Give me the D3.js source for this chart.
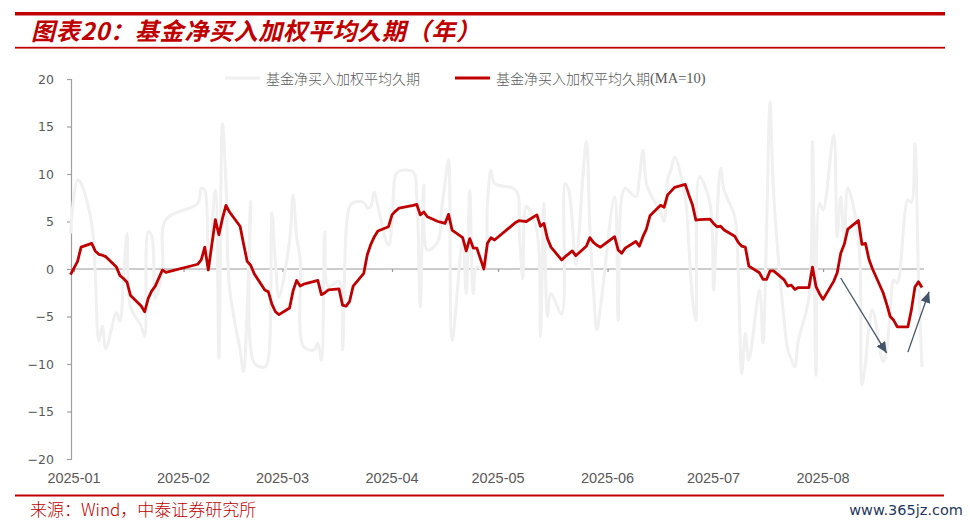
<!DOCTYPE html>
<html><head><meta charset="utf-8">
<script src="https://cdn.jsdelivr.net/npm/d3@7"></script>
<style>body{margin:0;background:#fff} svg{display:block}</style>
</head><body><svg id="c" width="970" height="525"></svg>
<script>
const titleText = "图表20：基金净买入加权平均久期（年）";
const sourceText = "来源：Wind，中泰证券研究所";
const watermarkText = "www.365jz.com";
const seriesNames = ["基金净买入加权平均久期", "基金净买入加权平均久期", "(MA=10)"];

const dates = [
"2024-12-31","2025-01-02","2025-01-03","2025-01-06","2025-01-07","2025-01-08","2025-01-09","2025-01-10",
"2025-01-13","2025-01-14","2025-01-15","2025-01-16","2025-01-17","2025-01-20","2025-01-21","2025-01-22",
"2025-01-23","2025-01-24","2025-01-26","2025-01-27",
"2025-02-05","2025-02-06","2025-02-07","2025-02-08","2025-02-10","2025-02-11","2025-02-12","2025-02-13",
"2025-02-14","2025-02-17","2025-02-18","2025-02-19","2025-02-20","2025-02-21","2025-02-24","2025-02-25",
"2025-02-26","2025-02-27","2025-02-28",
"2025-03-03","2025-03-04","2025-03-05","2025-03-06","2025-03-07","2025-03-10","2025-03-11","2025-03-12",
"2025-03-13","2025-03-14","2025-03-17","2025-03-18","2025-03-19","2025-03-20","2025-03-21","2025-03-24",
"2025-03-25","2025-03-26","2025-03-27","2025-03-28","2025-03-31",
"2025-04-01","2025-04-02","2025-04-03","2025-04-07","2025-04-08","2025-04-09","2025-04-10","2025-04-11",
"2025-04-14","2025-04-15","2025-04-16","2025-04-17","2025-04-18","2025-04-21","2025-04-22","2025-04-23",
"2025-04-24","2025-04-25","2025-04-27","2025-04-28","2025-04-29","2025-04-30",
"2025-05-06","2025-05-07","2025-05-08","2025-05-09","2025-05-12","2025-05-13","2025-05-14","2025-05-15",
"2025-05-16","2025-05-19","2025-05-20","2025-05-21","2025-05-22","2025-05-23","2025-05-26","2025-05-27",
"2025-05-28","2025-05-29","2025-05-30",
"2025-06-03","2025-06-04","2025-06-05","2025-06-06","2025-06-09","2025-06-10","2025-06-11","2025-06-12",
"2025-06-13","2025-06-16","2025-06-17","2025-06-18","2025-06-19","2025-06-20","2025-06-23","2025-06-24",
"2025-06-25","2025-06-26","2025-06-27","2025-06-30",
"2025-07-01","2025-07-02","2025-07-03","2025-07-04","2025-07-07","2025-07-08","2025-07-09","2025-07-10",
"2025-07-11","2025-07-14","2025-07-15","2025-07-16","2025-07-17","2025-07-18","2025-07-21","2025-07-22",
"2025-07-23","2025-07-24","2025-07-25","2025-07-28","2025-07-29","2025-07-30","2025-07-31",
"2025-08-01","2025-08-04","2025-08-05","2025-08-06","2025-08-07","2025-08-08","2025-08-11","2025-08-12",
"2025-08-13","2025-08-14","2025-08-15","2025-08-18","2025-08-19","2025-08-20","2025-08-21","2025-08-22",
"2025-08-25","2025-08-26","2025-08-27","2025-08-28","2025-08-29"
];

const rawValues = [
3.75,9.4,9.0,4.8,-0.5,-7.6,-6.0,-8.4,
-4.6,-5.5,-1.0,3.75,-4.0,-6.0,-7.1,3.9,
3.5,-3.1,-0.1,5.2,
6.9,8.5,8.3,-0.1,8.3,-9.4,15.3,9.0,
-2.0,-8.5,-10.8,-4.3,7.1,-9.9,-10.3,-9.5,
5.9,0.6,-3.0,
3.0,7.8,3.4,1.0,-8.2,-8.5,-7.8,-9.6,
3.9,-1.85,-1.3,-8.5,4.1,6.6,7.0,7.0,
6.4,6.6,8.1,6.6,2.5,
4.6,9.9,10.3,10.2,7.6,-4.0,8.85,2.0,
2.9,6.2,9.0,11.5,-7.5,3.05,-2.6,8.3,
-2.6,0.25,-0.1,6.9,10.4,9.0,
8.3,4.0,-1.0,6.6,4.0,-7.1,6.9,-5.0,
-2.6,-4.7,9.0,8.3,5.0,0.5,13.4,4.1,
-2.2,-6.4,-4.0,
7.6,-5.4,7.6,8.5,7.6,9.5,12.5,9.0,
8.0,6.0,5.0,9.4,10.5,11.8,7.5,2.5,
-3.0,-5.4,9.7,6.9,
-2.2,5.5,10.6,8.3,5.5,-0.45,-11.0,-6.8,
-9.6,-2.2,-7.8,4.0,17.6,8.0,-5.5,-8.5,
-9.5,-10.3,-7.5,-3.0,13.4,-11.2,6.9,
6.2,14.1,3.4,7.6,3.05,8.5,3.4,-12.2,
-9.9,-6.0,-4.3,-9.75,-8.5,-4.5,-1.15,-1.5,
7.3,7.0,13.2,-0.8,-10.3
];

const maValues = [
-0.6,0.8,2.3,2.7,1.9,1.55,1.45,1.3,
0.2,-0.7,-1.0,-1.4,-2.8,-3.9,-4.5,-3.1,
-2.3,-1.8,-0.1,-0.35,
0.5,0.95,2.3,-0.1,5.2,3.6,5.3,6.7,
6.0,4.5,2.6,0.8,0.4,-0.5,-2.2,-2.4,
-3.7,-4.5,-4.8,
-4.1,-2.3,-1.2,-1.8,-1.6,-1.3,-1.2,-2.7,
-2.5,-2.2,-2.1,-3.8,-3.9,-3.4,-1.8,-0.45,
1.5,2.6,3.4,4.0,4.45,
5.7,6.1,6.4,6.7,6.8,5.7,6.0,5.5,
5.0,4.9,4.8,5.75,4.1,3.3,1.9,3.2,
2.2,2.2,0.0,2.7,3.3,3.05,
4.9,5.1,5.05,5.0,5.7,4.5,4.8,3.2,
2.3,0.95,1.3,1.6,1.9,1.4,2.4,3.3,
2.8,2.5,2.3,
3.4,2.0,1.65,2.2,2.9,2.4,3.4,4.2,
5.6,6.7,6.5,7.8,8.2,8.6,8.9,7.8,
6.8,5.15,5.2,5.25,
4.8,4.45,4.5,4.1,3.45,2.8,2.4,2.3,
0.3,-0.4,-1.1,-1.1,-0.2,-0.2,-1.15,-1.8,
-1.7,-2.15,-1.95,-1.95,0.2,-1.85,-2.6,
-3.2,-1.3,-0.4,1.65,2.6,4.2,5.1,2.6,
2.7,1.0,0.0,-2.5,-3.7,-5.0,-5.4,-6.1,
-6.1,-4.3,-1.9,-1.35,-1.95
];

const yTicks = [-20,-15,-10,-5,0,5,10,15,20];
const xTickDates = ["2025-01-01","2025-02-01","2025-03-01","2025-04-01","2025-05-01","2025-06-01","2025-07-01","2025-08-01"];
const xTickLabels = ["2025-01","2025-02","2025-03","2025-04","2025-05","2025-06","2025-07","2025-08"];
const xDomain = ["2024-12-31","2025-08-29"];
const arrowNotes = [
  {x1:"2025-08-06", y1:-0.95, x2:"2025-08-19", y2:-8.85},
  {x1:"2025-08-25", y1:-8.75, x2:"2025-08-31", y2:-2.4}
];

const parse = d3.timeParse("%Y-%m-%d");
const svg = d3.select("#c");
const RED = "#c00000";

const x = d3.scaleTime().domain(xDomain.map(parse)).range([70.5, 922]);
const y = d3.scaleLinear().domain([-20, 20]).range([459, 79]);

// header rules & title
svg.append("rect").attr("x",15).attr("y",12).attr("width",930).attr("height",3.5).attr("fill",RED);
svg.append("rect").attr("x",15).attr("y",46.8).attr("width",930).attr("height",1.8).attr("fill",RED);
svg.append("text").attr("x",31).attr("y",40)
  .attr("font-family","'Noto Sans CJK SC'").attr("font-size",24).attr("font-weight",700)
  .attr("font-style","italic").attr("letter-spacing",0.7).attr("fill",RED).text(titleText);

// footer
svg.append("rect").attr("x",15).attr("y",494.5).attr("width",929).attr("height",2).attr("fill",RED);
svg.append("text").attr("x",30).attr("y",508).attr("dominant-baseline","central")
  .attr("font-family","'Noto Sans CJK SC'").attr("font-size",17).attr("font-weight",300)
  .attr("fill",RED).text(sourceText);
svg.append("text").attr("x",963).attr("y",510).attr("dominant-baseline","central").attr("text-anchor","end")
  .attr("font-family","'DejaVu Sans'").attr("font-size",14.5)
  .attr("fill","#1f3864").text(watermarkText);

// y axis
const yAxis = d3.axisLeft(y).tickValues(yTicks).tickSize(4).tickPadding(13).tickFormat(d3.format("d"));
const gy = svg.append("g").attr("transform","translate(71,0)").call(yAxis);
gy.select(".domain").attr("stroke","#a0a0a0").attr("stroke-width",1.2);
gy.selectAll(".tick line").attr("stroke","#a0a0a0").attr("stroke-width",1.2);
gy.selectAll(".tick text").attr("font-family","'DejaVu Sans'").attr("font-size",12.5).attr("fill","#595959");

// x axis along zero line
const xTicks = xTickDates.map(parse);
const xAxis = d3.axisBottom(x).tickValues(xTicks).tickSize(3).tickFormat(() => "");
const gx = svg.append("g").attr("transform",`translate(0,${y(0)})`).call(xAxis);
gx.select(".domain").attr("stroke","#999").attr("stroke-width",1.2).attr("d",`M71,0H924`);
gx.selectAll(".tick line").attr("stroke","#999").attr("stroke-width",1.2);

svg.append("g").selectAll("text").data(xTicks).join("text")
  .attr("x", (d,i) => x(d)).attr("y",478).attr("text-anchor","middle").attr("dominant-baseline","central")
  .attr("font-family","'Liberation Sans'").attr("font-size",14.5).attr("fill","#595959")
  .text((d,i) => xTickLabels[i]);

// series
const rows = dates.map((d,i) => ({date: parse(d), raw: rawValues[i], ma: maValues[i]}));

const rawLine = d3.line().x(d => x(d.date)).y(d => y(d.raw)).curve(d3.curveCatmullRom.alpha(0.5));
svg.append("path").datum(rows).attr("d", rawLine).attr("fill","none")
  .attr("stroke","#f0f0f0").attr("stroke-width",3).attr("stroke-linejoin","round");

const maLine = d3.line().x(d => x(d.date)).y(d => y(d.ma));
svg.append("path").datum(rows).attr("d", maLine).attr("fill","none")
  .attr("stroke",RED).attr("stroke-width",2.8).attr("stroke-linejoin","round");

// arrows
const defs = svg.append("defs");
defs.append("marker").attr("id","ah").attr("markerUnits","userSpaceOnUse")
  .attr("markerWidth",12).attr("markerHeight",10).attr("refX",11).attr("refY",5).attr("orient","auto")
  .append("path").attr("d","M0,0L11,5L0,10Z").attr("fill","#44546a");
svg.append("g").selectAll("line").data(arrowNotes).join("line")
  .attr("x1", d => x(parse(d.x1))).attr("y1", d => y(d.y1))
  .attr("x2", d => x(parse(d.x2))).attr("y2", d => y(d.y2))
  .attr("stroke","#44546a").attr("stroke-width",1.3).attr("marker-end","url(#ah)");

// legend
const lg = svg.append("g");
lg.append("line").attr("x1",225).attr("x2",260).attr("y1",78).attr("y2",78).attr("stroke","#f0f0f0").attr("stroke-width",3);
lg.append("text").attr("x",266).attr("y",78).attr("dominant-baseline","central")
  .attr("font-family","'Noto Sans CJK SC'").attr("font-size",14).attr("font-weight",300).attr("fill","#595959")
  .text(seriesNames[0]);
lg.append("line").attr("x1",455).attr("x2",490).attr("y1",78).attr("y2",78).attr("stroke",RED).attr("stroke-width",3);
const t2 = lg.append("text").attr("x",496).attr("y",78).attr("dominant-baseline","central")
  .attr("font-family","'Noto Sans CJK SC'").attr("font-size",14).attr("font-weight",300).attr("fill","#595959");
t2.append("tspan").text(seriesNames[1]);
t2.append("tspan").attr("font-family","'Liberation Serif'").attr("font-size",14.5).text(seriesNames[2]);
</script>
</body></html>
